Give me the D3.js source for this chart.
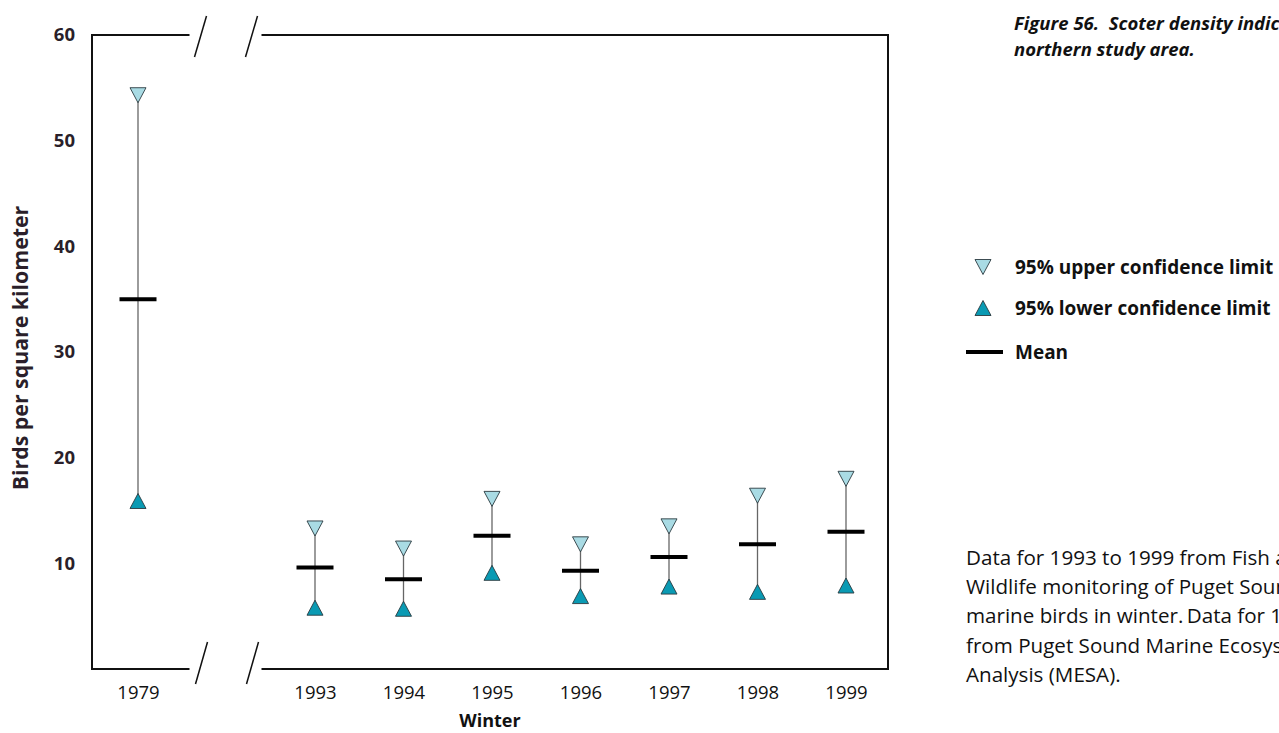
<!DOCTYPE html>
<html><head><meta charset="utf-8">
<script src="https://cdn.jsdelivr.net/npm/d3@7"></script>
<style>
body{margin:0;background:#fff;}
svg{display:block;}
text{font-family:"Open Sans",sans-serif;}
</style></head>
<body>
<svg id="chart" width="1279" height="733"></svg>
<script>
const winters = ["1979","gap","1993","1994","1995","1996","1997","1998","1999"];
const years = ["1979","1993","1994","1995","1996","1997","1998","1999"];
const upperCL = [54.3,13.3,11.4,16.1,11.8,13.5,16.4,18.0];
const meanVal = [35.0,9.6,8.5,12.6,9.3,10.6,11.8,13.0];
const lowerCL = [15.9,5.8,5.7,9.1,6.9,7.8,7.3,7.9];
const yTicks = [10,20,30,40,50,60];
const titleLines = ["Figure 56.\u00a0\u00a0Scoter density indices in the","northern study area."];
const noteLines = ["Data for 1993 to 1999 from Fish and","Wildlife monitoring of Puget Sound","marine birds in winter.\u2009Data for 1979","from Puget Sound Marine Ecosystem","Analysis (MESA)."];
const legendItems = ["95% upper confidence limit","95% lower confidence limit","Mean"];

const data = years.map((y,i)=>({year:y, hi:upperCL[i], mean:meanVal[i], lo:lowerCL[i]}));

const svg = d3.select("#chart");
const x = d3.scalePoint().domain(winters).range([138,846]);
const y = d3.scaleLinear().domain([0,60]).range([669,35]);
const L = 92, R = 888, T = y(60), B = y(0);
const gx = x("gap");
const upFill = "#a9dbe4", loFill = "#0a9ab3", triStroke = "#2a3a40";
const txt = "#2a1f2a";

// frame with axis breaks
const frame = svg.append("g").attr("stroke","#111").attr("stroke-width",2).attr("fill","none");
frame.append("path").attr("d",`M${gx-37},${T}H${L}V${B}H${gx-37}`);
frame.append("path").attr("d",`M${gx+35},${T}H${R}V${B}H${gx+35}`);
[[gx-32,gx-20],[gx+19,gx+31]].forEach(([x1,x2])=>{
  frame.append("line").attr("x1",x1).attr("y1",T+22).attr("x2",x2).attr("y2",T-19).attr("stroke-width",1.5);
  frame.append("line").attr("x1",x1+1).attr("y1",B+15).attr("x2",x2+1).attr("y2",B-27).attr("stroke-width",1.5);
});

// y axis
const yAxis = svg.append("g").attr("transform",`translate(${L},0)`)
  .call(d3.axisLeft(y).tickValues(yTicks).tickSize(0).tickPadding(17));
yAxis.select(".domain").remove();
yAxis.selectAll("text").attr("font-family","Open Sans").attr("font-size",18.5).attr("font-weight",700).attr("fill",txt);

// x axis
const xAxis = svg.append("g").attr("transform",`translate(0,${B})`)
  .call(d3.axisBottom(x).tickSize(0).tickPadding(17).tickFormat(d=>d==="gap"?"":d));
xAxis.select(".domain").remove();
xAxis.selectAll("text").attr("font-family","Open Sans").attr("font-size",18.5).attr("fill","#111");

// axis titles
svg.append("text").attr("x",(L+R)/2).attr("y",727).attr("text-anchor","middle")
  .attr("font-size",18).attr("font-weight",700).attr("fill","#111").text("Winter");
svg.append("text").attr("transform","translate(28,348) rotate(-90)").attr("text-anchor","middle")
  .attr("font-size",21.3).attr("font-weight",700).attr("fill",txt).text("Birds per square kilometer");

// data
const g = svg.append("g");
g.selectAll("line.rng").data(data).join("line").attr("class","rng")
  .attr("x1",d=>x(d.year)).attr("x2",d=>x(d.year))
  .attr("y1",d=>y(d.hi)).attr("y2",d=>y(d.lo))
  .attr("stroke","#666").attr("stroke-width",1.3);
g.selectAll("line.mean").data(data).join("line").attr("class","mean")
  .attr("x1",d=>x(d.year)-18.5).attr("x2",d=>x(d.year)+18.5)
  .attr("y1",d=>y(d.mean)).attr("y2",d=>y(d.mean))
  .attr("stroke","#000").attr("stroke-width",4);
const down = "M-8,-7.5L8,-7.5L0,7.5Z", up = "M0,-7.5L-8,7.5L8,7.5Z";
g.selectAll("path.hi").data(data).join("path").attr("class","hi")
  .attr("transform",d=>`translate(${x(d.year)},${y(d.hi)})`).attr("d",down)
  .attr("fill",upFill).attr("stroke",triStroke).attr("stroke-width",0.9);
g.selectAll("path.lo").data(data).join("path").attr("class","lo")
  .attr("transform",d=>`translate(${x(d.year)},${y(d.lo)})`).attr("d",up)
  .attr("fill",loFill).attr("stroke",triStroke).attr("stroke-width",0.9);

// title
svg.selectAll("text.title").data(titleLines).join("text").attr("class","title")
  .attr("x",1014).attr("y",(d,i)=>30+i*26).attr("font-size",18.5).attr("font-weight",700)
  .attr("font-style","italic").attr("fill","#111").text(d=>d);

// legend
const lg = svg.append("g");
lg.append("path").attr("transform","translate(983,267)").attr("d",down).attr("fill",upFill).attr("stroke",triStroke).attr("stroke-width",0.9);
lg.append("path").attr("transform","translate(983,308)").attr("d",up).attr("fill",loFill).attr("stroke",triStroke).attr("stroke-width",0.9);
lg.append("line").attr("x1",966).attr("x2",1003).attr("y1",352).attr("y2",352).attr("stroke","#000").attr("stroke-width",4);
lg.selectAll("text").data(legendItems).join("text").attr("x",1015).attr("y",(d,i)=>[267,308,352][i]).attr("dy","0.35em")
  .attr("font-size",19).attr("font-weight",700).attr("fill","#111").text(d=>d);

// note
svg.selectAll("text.note").data(noteLines).join("text").attr("class","note")
  .attr("x",966).attr("y",(d,i)=>565+i*29.2).attr("font-size",20.6).attr("fill","#111").text(d=>d);
</script>
</body></html>
